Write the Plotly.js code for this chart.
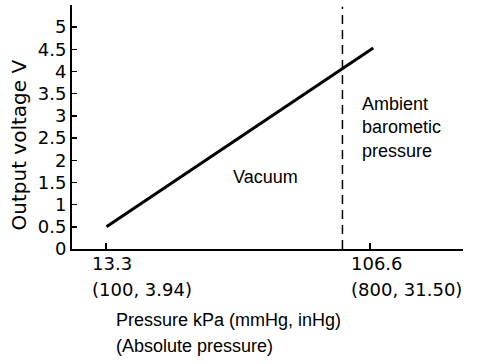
<!DOCTYPE html>
<html>
<head>
<meta charset="utf-8">
<script src="https://cdn.plot.ly/plotly-3.0.1.min.js"></script>
<style>html,body{margin:0;padding:0;background:#fff;}#chart{width:496px;height:364px;}</style>
</head>
<body>
<div id="chart"></div>
<script>
// Data
const pressureKpa = [13.3, 107.8];
const outputVoltage = [0.5, 4.53];
const ambientKpa = [96.9, 96.9];
const ambientSpan = [0, 5.46];
const yTickVals = [0, 0.5, 1, 1.5, 2, 2.5, 3, 3.5, 4, 4.5, 5];
const yTickText = ['0', '0.5', '1', '1.5', '2', '2.5', '3', '3.5', '4', '4.5', '5'];
const xTickVals = [13.3, 106.6];
const xTickKpa = ['13.3', '106.6'];
const xTickOther = ['(100, 3.94)', '(800, 31.50)'];

const txtFont = {family: 'Liberation Sans, Arial, sans-serif', size: 18, color: '#000'};
const numFont = {family: 'DejaVu Sans, sans-serif', size: 18, color: '#000'};

const traces = [
  {x: pressureKpa, y: outputVoltage, mode: 'lines', line: {color: '#000', width: 3}, hoverinfo: 'skip', showlegend: false},
  {x: ambientKpa, y: ambientSpan, mode: 'lines', line: {color: '#000', width: 1.5, dash: '9px,6px'}, hoverinfo: 'skip', showlegend: false}
];

const ann = [];
const xShift = [-16, -21];
xTickVals.forEach((v, i) => {
  ann.push({x: v, xref: 'x', y: 0, yref: 'paper', yanchor: 'middle', yshift: -14, xanchor: 'left', xshift: xShift[i],
    text: xTickKpa[i], showarrow: false, font: numFont});
  ann.push({x: v, xref: 'x', y: 0, yref: 'paper', yanchor: 'middle', yshift: -40, xanchor: 'left', xshift: xShift[i],
    text: xTickOther[i], showarrow: false, font: numFont});
});
// Axis titles and labels
const px = p => (p - 72) / 391;
const py = p => (249 - p) / 244;
ann.push({x: px(114), y: py(320), xref: 'paper', yref: 'paper', xanchor: 'left', yanchor: 'middle',
  text: 'Pressure kPa (mmHg, inHg)', showarrow: false, font: txtFont});
ann.push({x: px(114), y: py(346), xref: 'paper', yref: 'paper', xanchor: 'left', yanchor: 'middle',
  text: '(Absolute pressure)', showarrow: false, font: txtFont});
ann.push({x: px(18.5), y: py(145), xref: 'paper', yref: 'paper', xanchor: 'center', yanchor: 'middle', textangle: -90,
  text: 'Output voltage V', showarrow: false, font: {family: 'DejaVu Sans, sans-serif', size: 20, color: '#000'}});
ann.push({x: px(231), y: py(177), xref: 'paper', yref: 'paper', xanchor: 'left', yanchor: 'middle',
  text: 'Vacuum', showarrow: false, font: txtFont});
ann.push({x: px(360), y: py(127), xref: 'paper', yref: 'paper', xanchor: 'left', yanchor: 'middle', align: 'left',
  text: 'Ambient<br>barometic<br>pressure', showarrow: false, font: txtFont});

const layout = {
  width: 496, height: 364,
  margin: {l: 72, r: 33, t: 5, b: 115},
  paper_bgcolor: '#fff', plot_bgcolor: '#fff',
  showlegend: false,
  xaxis: {range: [1.1, 139.6], showgrid: false, zeroline: false, showline: true, linecolor: '#000', linewidth: 2,
    tickmode: 'array', tickvals: xTickVals, ticks: 'inside', ticklen: 6, tickwidth: 2, tickcolor: '#000', showticklabels: false},
  yaxis: {range: [0, 5.5], showgrid: false, zeroline: false, showline: true, linecolor: '#000', linewidth: 2,
    tickmode: 'array', tickvals: yTickVals, ticktext: yTickText, ticks: 'inside', ticklen: 5, tickwidth: 1.5, tickcolor: '#000',
    tickfont: numFont},
  annotations: ann
};
Plotly.newPlot('chart', traces, layout, {displayModeBar: false, staticPlot: true});
</script>
</body>
</html>
